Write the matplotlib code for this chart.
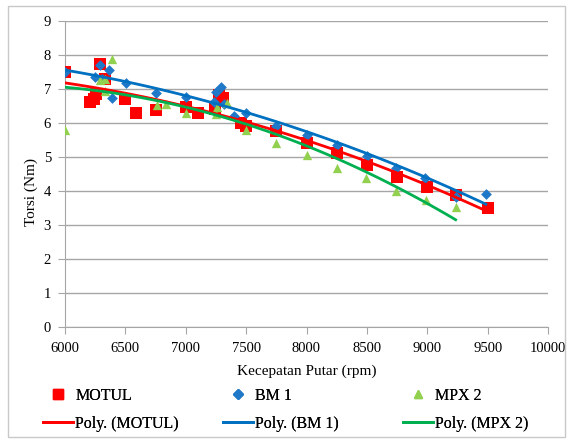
import numpy as np
import matplotlib
matplotlib.use("Agg")
import matplotlib.pyplot as plt
from matplotlib.lines import Line2D
from matplotlib.patches import Rectangle

plt.rcParams['font.family'] = ['Liberation Serif', 'DejaVu Serif']

# MOTUL
motul_rpm = [6000, 6210, 6240, 6255, 6290, 6335, 6500, 6590, 6750, 7000, 7100, 7245, 7275, 7305,
             7460, 7500, 7750, 8000, 8250, 8500, 8750, 9000, 9235, 9500]
motul_t = [7.5, 6.6, 6.7, 6.85, 7.72, 7.3, 6.7, 6.3, 6.38, 6.45, 6.3, 6.4, 6.82, 6.72,
           6.0, 5.9, 5.75, 5.42, 5.1, 4.75, 4.4, 4.1, 3.87, 3.5]

# BM 1
bm_rpm = [6000, 6250, 6290, 6310, 6366, 6390, 6504, 6755, 7000, 7234, 7248, 7290, 7320,
          7400, 7500, 7750, 8000, 8250, 8500, 8744, 8983, 9235, 9485]
bm_t = [7.48, 7.35, 7.7, 7.3, 7.55, 6.74, 7.18, 6.88, 6.75, 6.6, 6.9, 7.05, 6.55,
        6.2, 6.28, 5.92, 5.65, 5.35, 5.02, 4.68, 4.38, 3.82, 3.9]

# MPX 2
mpx_rpm = [6000, 6290, 6333, 6333, 6390, 6760, 6835, 7000, 7248, 7256, 7345, 7500,
           7750, 8000, 8250, 8490, 8744, 8986, 9235]
mpx_t = [5.8, 7.25, 7.3, 6.92, 7.88, 6.52, 6.55, 6.3, 6.25, 6.45, 6.58, 5.8,
         5.4, 5.05, 4.68, 4.37, 4.0, 3.72, 3.53]

W, H = 572, 440
fig = plt.figure(figsize=(W/100, H/100), dpi=100)
ax = fig.add_axes([65/W, 1 - 327/H, (548-65)/W, (327-20.7)/H])

series = [
    ("MOTUL", motul_rpm, motul_t, 's', '#ff0000', '#ff0000', 70, 7.2),
    ("BM 1", bm_rpm, bm_t, 'D', '#1f78c8', '#0070c0', 30, 4.6),
    ("MPX 2", mpx_rpm, mpx_t, '^', '#92d050', '#00b050', 45, 6),
]

for name, xs, ys, mk, mcol, lcol, size, lms in series:
    xs = np.array(xs, dtype=float)
    ys = np.array(ys, dtype=float)
    ax.scatter(xs, ys, marker=mk, s=size, color=mcol, zorder=3, linewidths=0)
    coef = np.polyfit(xs, ys, 2)
    xf = np.linspace(xs.min(), xs.max(), 100)
    ax.plot(xf, np.polyval(coef, xf), color=lcol, lw=2, zorder=4)

ax.set_xlim(6000, 10000)
ax.set_ylim(0, 9)
ax.set_xticks(np.arange(6000, 10001, 500))
ax.set_yticks(np.arange(0, 10, 1))
ax.grid(axis='y', color='#a6a6a6', lw=1)
ax.set_axisbelow(True)
for s in ['top', 'right']:
    ax.spines[s].set_visible(False)
for s in ['left', 'bottom']:
    ax.spines[s].set_color('#a6a6a6')
ax.tick_params(axis='both', colors='#a6a6a6', labelcolor='black', labelsize=10.5, length=5)
ax.tick_params(axis='y', pad=5)
ax.tick_params(axis='x', pad=5.5)
ax.set_xlabel("Kecepatan Putar (rpm)", fontsize=11, labelpad=7)
ax.set_ylabel("Torsi (Nm)", fontsize=11)
ax.yaxis.set_label_coords((38-65)/483, (327-192)/306.3)

# legend: one small legend per entry, text columns at 75, 254, 433 px
col_x = [43, 223, 403]
row_y = [396, 424]
for i, (name, xs, ys, mk, mcol, lcol, size, lms) in enumerate(series):
    hm = Line2D([], [], marker=mk, color=mcol, ls='none', markersize=lms)
    hl = Line2D([], [], color=lcol, lw=2)
    for h, lab, yy in [(hm, name, row_y[0]), (hl, "Poly. (%s)" % name, row_y[1])]:
        lg = fig.legend([h], [lab], loc='center left', bbox_to_anchor=(col_x[i]/W, 1 - yy/H),
                        frameon=False, fontsize=11.5, borderpad=0, borderaxespad=0,
                        handlelength=1.9, handletextpad=0.12)
        fig.add_artist(lg)

fig.add_artist(Rectangle((8/W, 3/H), 557/W, 431/H, transform=fig.transFigure,
                         fill=False, edgecolor='#c8c8c8', lw=1))

fig.savefig("out.png", dpi=100)
